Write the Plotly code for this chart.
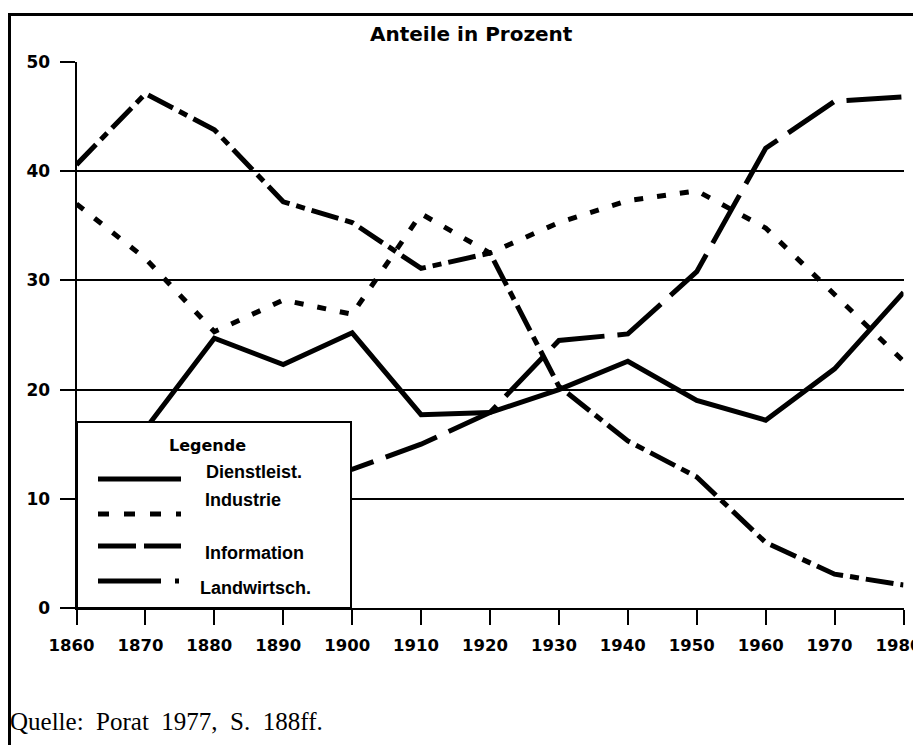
import plotly.graph_objects as go

W, H = 921, 745
OFF = 8  # page body margin offset

years = [1860, 1870, 1880, 1890, 1900, 1910, 1920, 1930, 1940, 1950, 1960, 1970, 1980]
dienstleist = [16.8, 16.4, 24.7, 22.3, 25.2, 17.7, 17.9, 20.0, 22.6, 19.0, 17.2, 21.9, 28.9]
industrie = [37.0, 32.0, 25.3, 28.2, 26.9, 36.1, 32.5, 35.3, 37.3, 38.2, 34.8, 28.7, 22.6]
information = [5.7, 4.8, 6.5, 12.4, 12.7, 15.0, 17.9, 24.5, 25.1, 30.8, 42.1, 46.4, 46.8]
landwirtsch = [40.6, 47.1, 43.8, 37.2, 35.3, 31.1, 32.5, 20.3, 15.3, 12.0, 6.0, 3.1, 2.1]

series_names = ["Dienstleist.", "Industrie", "Information", "Landwirtsch."]
series_values = [dienstleist, industrie, information, landwirtsch]
plot_dashes = ["solid", "9px,14px", "55px,13px", "28px,7px,9px,7px"]
legend_dashes = ["solid", "11px,15px", "38px,8px", "63px,14px,4px,14px"]

y_ticks = [0, 10, 20, 30, 40, 50]
title_text = "Anteile in Prozent"
legend_title = "Legende"
source_text = "Quelle:\u00a0\u00a0Porat\u00a0\u00a01977,\u00a0\u00a0S.\u00a0\u00a0188ff."


def px(x):
    return (x - OFF) / W


def py(y):
    return 1 - (y - OFF) / H


fig = go.Figure()
for name, vals, d in zip(series_names, series_values, plot_dashes):
    fig.add_trace(go.Scatter(
        x=years, y=vals, mode="lines", name=name,
        line=dict(color="black", width=5, dash=d),
        showlegend=False, cliponaxis=False,
    ))

x_tick_font = dict(family="DejaVu Sans", size=16.5, color="black", weight="bold")
y_tick_font = dict(family="DejaVu Sans", size=17, color="black", weight="bold")

fig.update_layout(
    width=W, height=H,
    margin=dict(l=0, r=0, t=0, b=0, pad=0, autoexpand=False),
    paper_bgcolor="white", plot_bgcolor="white",
    showlegend=False,
    xaxis=dict(
        domain=[px(76.5), px(903.5)], range=[1860, 1980],
        tickmode="array", tickvals=years, ticktext=[str(v) for v in years],
        showgrid=False, zeroline=False, automargin=False,
        showline=True, linecolor="black", linewidth=2,
        ticks="outside", ticklen=15, tickwidth=2, tickcolor="black",
        tickfont=x_tick_font, ticklabelstandoff=6, ticklabelshift=-5,
        ticklabeloverflow="allow",
    ),
    yaxis=dict(
        domain=[py(608), py(62)], range=[0, 50],
        tickmode="array", tickvals=y_ticks, ticktext=[str(v) for v in y_ticks],
        showgrid=True, gridcolor="black", gridwidth=2,
        zeroline=False, automargin=False,
        showline=True, linecolor="black", linewidth=2,
        ticks="outside", ticklen=15, tickwidth=2, tickcolor="black",
        tickfont=y_tick_font, ticklabelstandoff=6,
    ),
)

shapes = []
# outer frame (top and left edges)
shapes.append(dict(type="line", xref="paper", yref="paper",
                   x0=px(8), x1=1.0, y0=py(14.5), y1=py(14.5),
                   line=dict(color="black", width=3)))
shapes.append(dict(type="line", xref="paper", yref="paper",
                   x0=px(9.5), x1=px(9.5), y0=py(13), y1=0.0,
                   line=dict(color="black", width=3)))
# legend box
shapes.append(dict(type="rect", xref="paper", yref="paper", layer="above",
                   x0=px(77), x1=px(351), y0=py(608), y1=py(422),
                   line=dict(color="black", width=2), fillcolor="white"))
sample_y = [479, 514, 546, 581]
for yy, d in zip(sample_y, legend_dashes):
    shapes.append(dict(type="line", xref="paper", yref="paper", layer="above",
                       x0=px(98), x1=px(181), y0=py(yy), y1=py(yy),
                       line=dict(color="black", width=5, dash=d)))
fig.update_layout(shapes=shapes)

annotations = []
annotations.append(dict(text=title_text, xref="paper", yref="paper",
                        x=px(471), y=py(34), showarrow=False,
                        xanchor="center", yanchor="middle",
                        font=dict(family="DejaVu Sans", size=20, color="black", weight="bold")))
annotations.append(dict(text=legend_title, xref="paper", yref="paper",
                        x=px(207), y=py(445), showarrow=False,
                        xanchor="center", yanchor="middle",
                        font=dict(family="DejaVu Sans", size=16, color="black", weight="bold")))
label_pos = [(204, 472), (203, 500), (203, 553), (198, 588)]
for name, (lx, ly) in zip(series_names, label_pos):
    annotations.append(dict(text=name, xref="paper", yref="paper",
                            x=px(lx), y=py(ly), showarrow=False,
                            xanchor="left", yanchor="middle",
                            font=dict(family="Liberation Sans", size=18, color="black", weight="bold")))
annotations.append(dict(text=source_text, xref="paper", yref="paper",
                        x=px(8), y=py(721), showarrow=False,
                        xanchor="left", yanchor="middle",
                        font=dict(family="Liberation Serif", size=25, color="black")))
fig.update_layout(annotations=annotations)

fig.write_html("out.html")
